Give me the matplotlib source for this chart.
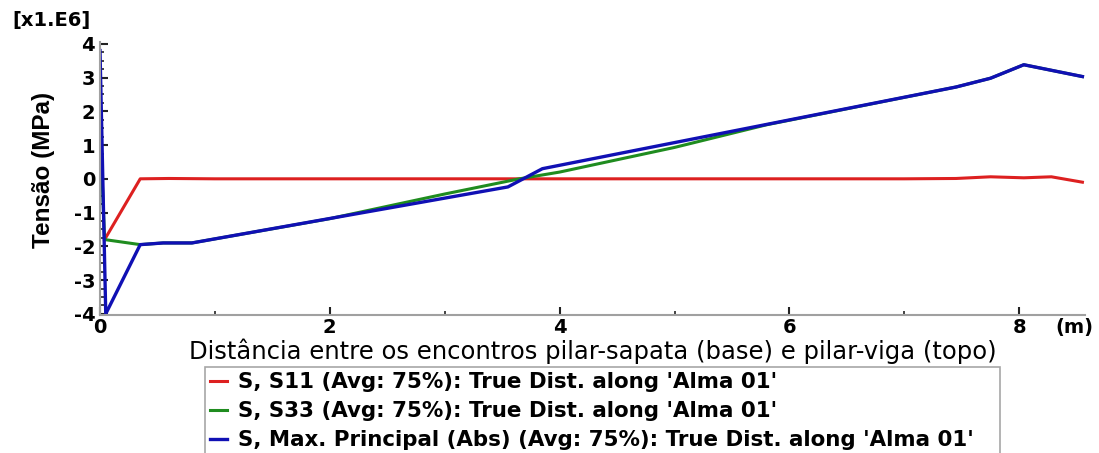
import matplotlib
matplotlib.use("Agg")
import matplotlib.pyplot as plt
from matplotlib.ticker import MultipleLocator

plt.rcParams["axes.unicode_minus"] = False

# Data (distance in m, stress in x1.E6)
s11_x = [0.04, 0.35, 0.6, 1.0, 2.0, 3.0, 4.0, 5.0, 6.0, 7.0, 7.45, 7.75, 8.04, 8.28, 8.55]
s11_y = [-1.8, 0.0, 0.01, 0.0, 0.0, 0.0, 0.0, 0.0, 0.0, 0.0, 0.01, 0.06, 0.03, 0.06, -0.1]

s33_x = [0.0, 0.04, 0.35, 0.55, 0.8, 2.0, 3.0, 3.65, 4.0, 5.0, 5.8, 7.45, 7.75, 8.04, 8.55]
s33_y = [1.6, -1.8, -1.95, -1.9, -1.9, -1.18, -0.45, 0.0, 0.2, 0.93, 1.6, 2.72, 2.98, 3.38, 3.03]

smax_x = [0.0, 0.05, 0.35, 0.55, 0.8, 3.55, 3.85, 7.45, 7.75, 8.04, 8.55]
smax_y = [3.8, -4.0, -1.95, -1.9, -1.9, -0.24, 0.3, 2.72, 2.98, 3.38, 3.03]

labels = ["S, S11 (Avg: 75%): True Dist. along 'Alma 01'",
          "S, S33 (Avg: 75%): True Dist. along 'Alma 01'",
          "S, Max. Principal (Abs) (Avg: 75%): True Dist. along 'Alma 01'"]
colors = ["#dd2020", "#1f8c1f", "#1010b4"]

fig = plt.figure(figsize=(10.99, 4.53), dpi=100)
ax = fig.add_axes([0.091, 0.305, 0.896, 0.602])

l1, = ax.plot(s11_x, s11_y, color=colors[0], lw=2.2)
l2, = ax.plot(s33_x, s33_y, color=colors[1], lw=2.2)
l3, = ax.plot(smax_x, smax_y, color=colors[2], lw=2.4)

ax.set_xlim(0, 8.57)
ax.set_ylim(-4.03, 4.05)
for s in ["top", "right"]:
    ax.spines[s].set_visible(False)
for s in ["left", "bottom"]:
    ax.spines[s].set_color("#a0a0a0")
    ax.spines[s].set_linewidth(1.5)

ax.xaxis.set_major_locator(MultipleLocator(2))
ax.xaxis.set_minor_locator(MultipleLocator(1))
ax.yaxis.set_major_locator(MultipleLocator(1))
ax.yaxis.set_minor_locator(MultipleLocator(0.25))
ax.tick_params(which="major", direction="in", length=6, width=1.5, color="#222222")
ax.tick_params(which="minor", direction="in", length=3, width=1.2, color="#222222")
for lab in ax.get_xticklabels() + ax.get_yticklabels():
    lab.set_fontfamily("DejaVu Sans")
    lab.set_fontweight("bold")
    lab.set_fontsize(14)
ax.tick_params(axis="x", pad=2)
ax.tick_params(axis="y", pad=3.5)

ax.set_xlabel("Distância entre os encontros pilar-sapata (base) e pilar-viga (topo)",
              fontfamily="DejaVu Sans", fontsize=17.5, labelpad=1)
ax.set_ylabel("Tensão (MPa)", fontfamily="Liberation Sans", fontweight="bold",
              fontsize=17.5)
ax.yaxis.set_label_coords(-0.046, 0.53)

fig.text(0.011, 0.975, "[x1.E6]", fontfamily="DejaVu Sans", fontweight="bold",
         fontsize=14, ha="left", va="top")
fig.text(0.96, 0.277, "(m)", fontfamily="DejaVu Sans", fontweight="bold",
         fontsize=14, ha="left", va="center")

leg = fig.legend([l1, l2, l3], labels, loc="upper left",
                 bbox_to_anchor=(0.1865, 0.19, 0.7234, 0.0), mode="expand",
                 frameon=True, fancybox=False,
                 prop={"family": "DejaVu Sans", "weight": "bold", "size": 15.4},
                 handlelength=0.8, handletextpad=0.5, labelspacing=0.42,
                 borderpad=0.25, borderaxespad=0)
leg.get_frame().set_edgecolor("#909090")
leg.get_frame().set_linewidth(1.2)

fig.savefig("out.png", dpi=100)
